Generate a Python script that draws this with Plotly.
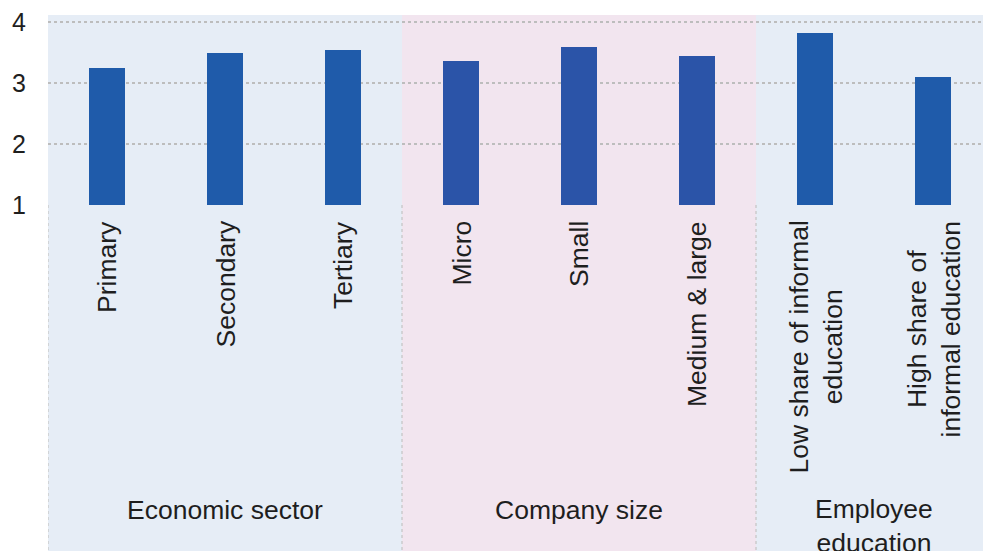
import plotly.graph_objects as go

# Mean scores by firm characteristic
categories = ["Primary", "Secondary", "Tertiary", "Micro", "Small", "Medium & large",
              "Low share of informal education", "High share of informal education"]
tick_labels = ["Primary", "Secondary", "Tertiary", "Micro", "Small", "Medium & large",
               "Low share of informal<br>education", "High share of<br>informal education"]
values = [3.25, 3.50, 3.55, 3.37, 3.59, 3.44, 3.82, 3.10]
group_names = ["Economic sector", "Company size", "Employee<br>education"]
group_sizes = [3, 3, 2]

W, H = 983, 551
M_L, M_R, M_T, M_B = 48, 0, 15, 346
plot_h = H - M_T - M_B
CAT_PX = 118.0
x_max = -0.5 + (W - M_L - M_R) / CAT_PX

FONT = "Liberation Sans, Arial, sans-serif"
TXT = "#1e1e1e"
band_colors = ["#e6edf6", "#f2e5ef", "#e6edf6"]
bar_colors_by_group = ["#1f5baa", "#2b54a8", "#1f5baa"]


def py(px):
    """pixel row -> paper y"""
    return (H - M_B - px) / plot_h


bar_colors = []
for g, n in enumerate(group_sizes):
    bar_colors += [bar_colors_by_group[g]] * n

fig = go.Figure()
fig.add_trace(go.Bar(
    x=categories, y=[v - 1 for v in values], base=1,
    width=0.31, marker=dict(color=bar_colors, line=dict(width=0)),
    hoverinfo="skip", showlegend=False,
))

shapes = []
annotations = []
start = 0
for g, n in enumerate(group_sizes):
    x0, x1 = start - 0.5, start + n - 0.5
    shapes.append(dict(type="rect", xref="x", yref="paper", x0=x0, x1=x1,
                       y0=py(H + 5), y1=1, fillcolor=band_colors[g],
                       line=dict(width=0), layer="below"))
    shapes.append(dict(type="line", xref="x", yref="paper", x0=x0, x1=x0,
                       y0=py(H + 5), y1=0, line=dict(color="#c4c4c4", width=1.2, dash="dot"),
                       layer="above"))
    annotations.append(dict(x=(x0 + x1) / 2, y=py(526 if "<br>" in group_names[g] else 510),
                            xref="x", yref="paper", text=group_names[g], showarrow=False,
                            xanchor="center", yanchor="middle", align="center",
                            font=dict(family=FONT, size=26.5, color=TXT)))
    start += n

for cat, lab in zip(categories, tick_labels):
    annotations.append(dict(x=cat, y=py(219), xref="x", yref="paper", text=lab,
                            textangle=-90, showarrow=False, xanchor="center",
                            yanchor="top", align="center",
                            font=dict(family=FONT, size=26.5, color=TXT)))

fig.update_layout(
    width=W, height=H,
    margin=dict(l=M_L, r=M_R, t=M_T, b=M_B, pad=0),
    paper_bgcolor="white", plot_bgcolor="rgba(0,0,0,0)",
    shapes=shapes, annotations=annotations,
    bargap=0,
    xaxis=dict(type="category", categoryorder="array", categoryarray=categories,
               range=[-0.5, x_max], showticklabels=False, showgrid=False,
               zeroline=False, showline=False, fixedrange=True),
    yaxis=dict(range=[1, 1 + 3 * 1.04], tickvals=[1, 2, 3, 4], ticktext=["1", "2", "3", "4"],
               showgrid=True, gridcolor="#bdbdbd", gridwidth=1.6, griddash="dot",
               zeroline=False, showline=False, ticks="outside", ticklen=16,
               tickcolor="rgba(0,0,0,0)",
               tickfont=dict(family=FONT, size=25, color=TXT), fixedrange=True),
)

fig.write_html("out.html")
